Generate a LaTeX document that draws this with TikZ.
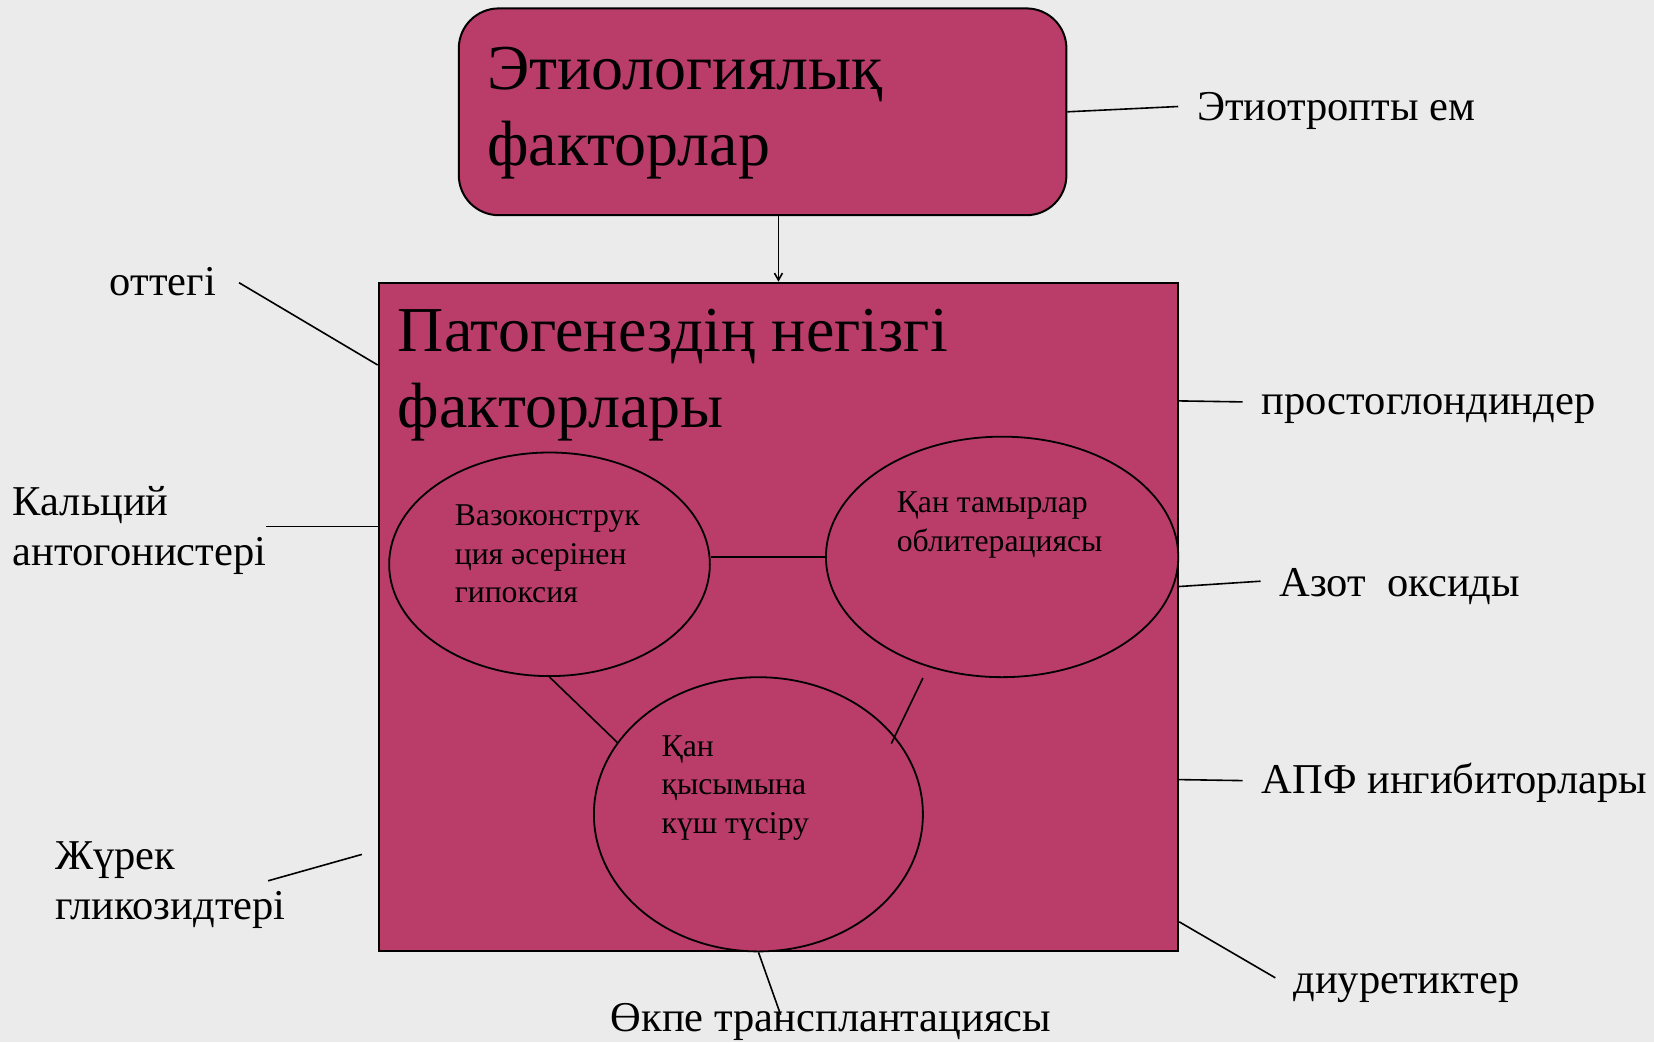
\documentclass[tikz,border=0pt]{standalone}
\usepackage{fontspec}
\setmainfont{Liberation Serif}
\usetikzlibrary{shapes.geometric,arrows.meta,calc}
\definecolor{bgcol}{HTML}{EBEBEB}
\definecolor{rose}{HTML}{B93D68}
\newcommand\bigfnt{\fontsize{64}{76}\selectfont}
\newcommand\labfnt{\fontsize{42.5}{50}\selectfont}
\newcommand\elfnt{\fontsize{31.7}{38.5}\selectfont}
\begin{document}
\begin{tikzpicture}[x=1pt,y=-1pt,
  boxstyle/.style={draw=black,line width=2pt,fill=rose,inner sep=0pt},
  ellstyle/.style={ellipse,draw=black,line width=1.8pt,fill=rose,inner sep=0pt},
  bigtext/.style={font=\bigfnt,align=left,inner sep=0pt,anchor=west},
  labtext/.style={font=\labfnt,align=left,inner sep=0pt},
  eltext/.style={font=\elfnt,align=left,inner sep=0pt,anchor=west},
  conn/.style={line width=1.6pt,draw=black},
  arr/.style={line width=1.6pt,-{Straight Barb[length=7pt,width=8pt]}}]
\useasboundingbox (0,0) rectangle (1654,1042);
\fill[bgcol] (0,0) rectangle (1654,1042);

% main boxes
\node[boxstyle,rounded corners=40pt,minimum width=607.6pt,minimum height=206.8pt] (etio) at (762.6,111.8) {};
\node[boxstyle,minimum width=799.5pt,minimum height=668.7pt] (main) at (778.45,617.05) {};
\node[bigtext] (etiotxt) at (487,113) {Этиологиялық\\факторлар};
\node[bigtext] (pattxt) at (397.7,375.5) {Патогенездің негізгі\\факторлары};
\draw[arr] (etio.south -| main.north) -- (main.north);

% ellipses
\node[ellstyle,minimum width=320.7pt,minimum height=223.6pt] (e1) at (549.5,564.3) {};
\node[ellstyle,minimum width=352.3pt,minimum height=240.5pt] (e2) at (1002.1,556.9) {};
\node[ellstyle,minimum width=329pt,minimum height=274.2pt] (e3) at (758.4,814.3) {};
\node[eltext] (e1t) at (454.6,553.8) {Вазоконструк\\ция әсерінен\\гипоксия};
\node[eltext] (e2t) at (896.6,525) {Қан тамырлар\\облитерациясы};
\node[eltext] (e3t) at (661.4,787.8) {Қан\\қысымына\\күш түсіру};
\draw[conn] (e1.east |- e2.west) -- (e2.west);
\draw[conn] (e1.south) -- (e3.153);
\draw[conn] ($(e2.south)+(-79.2,0)$) -- ($(e3.center)+(132.9,-70.7)$);

% labels
\node[labtext,anchor=mid west] (etiem) at (1197,118.1) {Этиотропты ем};
\node[labtext,anchor=mid west] (ottegi) at (109.7,293.2) {оттегі};
\node[labtext,anchor=mid west] (prosto) at (1261.5,412.4) {простоглондиндер};
\node[labtext,anchor=west] (kalc) at (12.7,530.9) {Кальций\\антогонистері};
\node[labtext,anchor=mid west] (azot) at (1279.5,593.8) {Азот \ оксиды};
\node[labtext,anchor=mid west] (apf) at (1261.5,791.1) {АПФ ингибиторлары};
\node[labtext,anchor=west] (zhurek) at (54.8,885.3) {Жүрек\\гликозидтері};
\node[labtext,anchor=mid west] (diur) at (1293.2,991.5) {диуретиктер};
\node[labtext,anchor=mid west] (okpe) at (610.7,1029.5) {Өкпе трансплантациясы};

\draw[conn] (etio.east) -- ($(etiem.mid west)+(-18.8,-11.6)$);
\draw[conn] ($(ottegi.mid east)+(23,-10.5)$) -- ($(main.north west)+(0,83.3)$);
\draw[conn] ($(main.north east)+(0,119.2)$) -- ($(prosto.mid west)+(-19,-10.5)$);
\draw[conn] ($(kalc.east)+(0,-4.6)$) -- ($(kalc.east -| main.west)+(0,-4.6)$);
\draw[conn] ($(main.north east)+(0,304.8)$) -- ($(azot.mid west)+(-19,-12.6)$);
\draw[conn] ($(main.north east)+(0,497.9)$) -- ($(apf.mid west)+(-19,-10.5)$);
\draw[conn] ($(zhurek.east)+(-17.7,-4.5)$) -- ($(main.north west)+(-15.8,572.7)$);
\draw[conn] ($(main.south east)+(0,-30.6)$) -- ($(diur.mid west)+(-17.9,-13.7)$);
\draw[conn] ($(main.south west)+(380.8,0)$) -- ($(okpe.mid west)+(169.9,-14.8)$);
\end{tikzpicture}
\end{document}
